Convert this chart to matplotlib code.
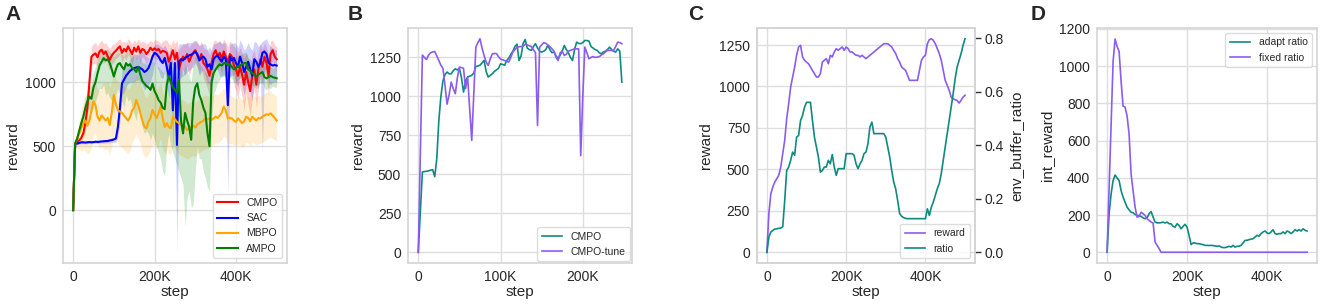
import numpy as np
import matplotlib
matplotlib.use("Agg")
import matplotlib.pyplot as plt
from matplotlib.ticker import MultipleLocator, FuncFormatter

# ----> Data <----
# panel A: steps every 5K from 0 to 500K
steps_a = np.arange(0, 500001, 5000)

cmpo_a = [0, 520, 530, 545, 565, 600, 680, 800, 1000, 1200,
          1215, 1225, 1195, 1240, 1254, 1220, 1240, 1200, 1175, 1210,
          1230, 1245, 1265, 1280, 1230, 1260, 1240, 1280, 1250, 1220,
          1270, 1240, 1280, 1230, 1260, 1250, 1220, 1240, 1270, 1250,
          1265, 1250, 1260, 1230, 1245, 1240, 1230, 1160, 1200, 1250,
          1180, 1230, 1100, 1160, 1200, 1180, 1220, 1160, 1200, 1230,
          1250, 1210, 1180, 1220, 1150, 1130, 1100, 1050, 1150, 1220,
          1250, 1200, 1230, 1180, 1240, 1200, 1150, 1220, 1200, 1130,
          1100, 1050, 1120, 1060, 980, 1080, 1000, 930, 1050, 1100,
          980, 1100, 1180, 1120, 1200, 1150, 1050, 1220, 1250, 1200,
          1180]
cmpo_a_hi = [0, 525, 540, 560, 590, 640, 740, 880, 1090, 1280,
             1300, 1310, 1280, 1310, 1330, 1300, 1310, 1280, 1260, 1290,
             1300, 1310, 1330, 1340, 1310, 1320, 1310, 1340, 1320, 1300,
             1330, 1310, 1340, 1310, 1320, 1320, 1300, 1310, 1330, 1310,
             1330, 1330, 1320, 1300, 1320, 1330, 1330, 1300, 1290, 1330,
             1300, 1330, 1250, 1280, 1300, 1300, 1310, 1270, 1300, 1310,
             1320, 1300, 1290, 1320, 1270, 1260, 1250, 1210, 1270, 1320,
             1330, 1310, 1330, 1300, 1340, 1310, 1280, 1320, 1310, 1280,
             1260, 1230, 1270, 1230, 1180, 1240, 1180, 1130, 1220, 1250,
             1160, 1250, 1300, 1260, 1310, 1270, 1210, 1320, 1330, 1290,
             1280]
cmpo_a_lo = [0, 515, 520, 530, 540, 570, 620, 720, 910, 1130,
             1145, 1145, 1125, 1180, 1184, 1140, 1180, 1130, 1095, 1140,
             1160, 1185, 1195, 1220, 1150, 1200, 1170, 1220, 1180, 1140,
             1210, 1170, 1220, 1150, 1200, 1180, 1140, 1180, 1200, 1190,
             1195, 1170, 1200, 1160, 1165, 1150, 1130, 1040, 1110, 1170,
             1060, 1130, 950, 1050, 1100, 1060, 1130, 1050, 1100, 1150,
             1180, 1120, 1070, 1120, 1030, 1000, 950, 890, 1030, 1120,
             1160, 1090, 1130, 1060, 1140, 1090, 1020, 1120, 1090, 980,
             940, 870, 970, 890, 780, 920, 820, 730, 880, 950,
             800, 950, 1060, 980, 1090, 1030, 890, 1120, 1170, 1110,
             1080]

sac_a = [0, 520, 520, 525, 530, 530, 528, 530, 532, 530,
         532, 535, 533, 535, 537, 538, 540, 540, 545, 548,
         552, 560, 650, 800, 990, 1020, 1050, 1070, 1090, 1100,
         1110, 1115, 1120, 1110, 1100, 1080, 1090, 1110, 1150, 1200,
         1230, 1220, 1200, 1170, 1150, 1190, 1120, 1040, 1150, 780,
         1150, 510, 1160, 1180, 1170, 1190, 1200, 1210, 1215, 1225,
         1240, 1220, 1170, 1190, 1200, 1180, 1120, 1140, 1100, 1180,
         1200, 1210, 1180, 1160, 1200, 1180, 820, 1200, 1170, 1190,
         1150, 1120, 1200, 1150, 1080, 1120, 1160, 1100, 1050, 1180,
         1160, 1120, 1150, 1230, 1240, 1220, 1150, 1140, 1130, 1135,
         1130]
sac_a_hi = [0, 530, 530, 535, 542, 542, 540, 542, 544, 542,
            544, 547, 545, 547, 549, 553, 553, 555, 555, 565,
            572, 590, 730, 920, 1090, 1120, 1140, 1150, 1180, 1200,
            1220, 1215, 1220, 1240, 1240, 1230, 1200, 1190, 1200, 1240,
            1290, 1300, 1290, 1280, 1270, 1290, 1260, 1220, 1280, 1150,
            1280, 1200, 1300, 1300, 1300, 1300, 1310, 1310, 1310, 1320,
            1330, 1320, 1280, 1300, 1300, 1300, 1250, 1280, 1240, 1300,
            1300, 1310, 1320, 1300, 1310, 1300, 1100, 1300, 1300, 1310,
            1300, 1270, 1330, 1300, 1250, 1270, 1310, 1270, 1250, 1320,
            1310, 1280, 1300, 1320, 1330, 1340, 1300, 1280, 1270, 1260,
            1250]
sac_a_lo = [0, 510, 510, 515, 518, 518, 516, 518, 520, 518,
            520, 523, 521, 523, 525, 523, 523, 525, 525, 528,
            532, 530, 570, 680, 890, 920, 960, 990, 1000, 1000,
            1000, 1015, 1020, 1000, 980, 940, 960, 980, 1010, 1060,
            1150, 1130, 1090, 1040, 1030, 1090, 980, 860, 1000, 480,
            1000, -330, 1010, 1040, 1050, 1060, 1080, 1090, 1110, 1120,
            1150, 1120, 1050, 1080, 1100, 1050, 1000, 970, 960, 1060,
            1100, 1100, 1050, 1040, 1050, 1040, 130, 1050, 1050, 1060,
            1000, 960, 1060, 980, 900, 970, 1000, 930, 850, 1030,
            1000, 950, 1050, 450, 1100, 1100, 1000, 980, 1000, 1000,
            1000]

mbpo_a = [0, 520, 560, 600, 640, 680, 700, 660, 700, 780,
          850, 820, 730, 700, 740, 720, 700, 720, 665, 760,
          900, 830, 780, 770, 760, 740, 720, 700, 730, 780,
          800, 861, 820, 760, 700, 652, 640, 690, 720, 783,
          750, 720, 760, 809, 720, 650, 680, 650, 640, 730,
          710, 690, 680, 665, 660, 652, 626, 640, 650, 660,
          645, 670, 680, 690, 700, 720, 710, 717, 705, 717,
          730, 720, 740, 760, 809, 780, 717, 720, 717, 700,
          690, 717, 700, 680, 695, 730, 720, 695, 730, 715,
          700, 720, 717, 730, 740, 750, 745, 757, 740, 720,
          700]
mbpo_a_hi = [0, 540, 620, 700, 780, 850, 900, 880, 920, 980,
             1030, 1000, 950, 930, 980, 1000, 990, 1010, 960, 1000,
             1080, 1030, 1000, 990, 980, 970, 960, 950, 960, 1000,
             1010, 1060, 1030, 990, 950, 900, 880, 910, 940, 980,
             960, 940, 970, 1000, 930, 860, 890, 860, 850, 930,
             920, 900, 890, 870, 860, 850, 830, 840, 850, 860,
             840, 860, 870, 880, 890, 900, 890, 900, 890, 900,
             910, 900, 920, 930, 960, 940, 900, 900, 890, 880,
             870, 890, 880, 860, 870, 900, 890, 870, 900, 890,
             880, 900, 890, 900, 910, 920, 920, 930, 910, 900,
             890]
mbpo_a_lo = [0, 500, 480, 480, 460, 470, 460, 440, 450, 500,
             600, 600, 520, 480, 500, 480, 470, 480, 430, 500,
             600, 560, 520, 500, 490, 470, 450, 440, 470, 520,
             560, 600, 560, 520, 460, 420, 410, 440, 470, 520,
             500, 480, 520, 560, 480, 440, 470, 440, 430, 520,
             480, 450, 440, 430, 420, 410, 400, 410, 420, 430,
             420, 440, 450, 460, 470, 480, 480, 490, 500, 510,
             530, 520, 540, 550, 580, 560, 520, 520, 520, 510,
             500, 520, 510, 490, 500, 530, 520, 500, 530, 520,
             510, 520, 520, 530, 540, 550, 560, 570, 560, 550,
             540]

ampo_a = [0, 520, 560, 620, 680, 730, 800, 850, 887, 870,
          960, 1000, 1070, 1130, 1160, 1188, 1170, 1180, 1150, 1100,
          1044, 1100, 1140, 1149, 1120, 1100, 1149, 1130, 1140, 1110,
          1100, 1080, 1120, 1060, 1010, 990, 970, 960, 940, 990,
          930, 900, 860, 840, 800, 790, 980, 1050, 1000, 960,
          940, 920, 1020, 700, 600, 760, 700, 650, 550, 850,
          960, 992, 900, 860, 800, 760, 600, 500, 1000, 1070,
          1100, 1123, 1140, 1130, 1149, 1150, 1130, 1140, 1120, 1100,
          1110, 1125, 1130, 1140, 1149, 1150, 1100, 1090, 1070, 1060,
          1040, 1060, 1070, 1080, 1040, 1030, 1040, 1050, 1040, 1035,
          1031]
ampo_a_hi = [0, 530, 580, 650, 720, 790, 880, 940, 960, 980,
             1080, 1120, 1180, 1220, 1250, 1260, 1250, 1260, 1240, 1220,
             1200, 1220, 1230, 1240, 1220, 1210, 1240, 1230, 1230, 1210,
             1200, 1190, 1220, 1180, 1150, 1150, 1140, 1140, 1130, 1170,
             1150, 1130, 1120, 1100, 1080, 1080, 1180, 1200, 1180, 1150,
             1150, 1130, 1200, 1100, 1050, 1150, 1080, 1050, 1000, 1150,
             1200, 1200, 1150, 1120, 1100, 1080, 1050, 950, 1150, 1180,
             1200, 1210, 1220, 1210, 1230, 1220, 1210, 1220, 1200, 1190,
             1200, 1210, 1210, 1220, 1230, 1230, 1190, 1180, 1160, 1150,
             1130, 1150, 1160, 1170, 1130, 1120, 1130, 1120, 1110, 1110,
             1100]
ampo_a_lo = [0, 510, 540, 590, 640, 670, 720, 760, 800, 760,
             800, 850, 900, 950, 950, 980, 900, 920, 880, 850,
             750, 900, 950, 900, 850, 800, 900, 850, 870, 800,
             750, 700, 800, 750, 650, 600, 620, 600, 550, 600,
             550, 500, 450, 400, 300, 270, 500, 600, 500, 450,
             400, 350, 300, 250, 200, -130, 100, 150, 20, 50,
             300, 500, 400, 400, 300, 250, 180, 150, 700, 900,
             950, 1000, 1020, 1050, 1060, 1040, 1050, 1040, 1030, 1000,
             1000, 1020, 1030, 1050, 1060, 1050, 1000, 990, 980, 960,
             950, 980, 990, 1000, 950, 940, 960, 950, 970, 960,
             960]

# panel B: steps every 2.5K from 0 to 247.5K
steps_b = np.arange(0, 250000, 2500)
cmpo_b = [0, 260, 515, 518, 520, 522, 528, 530, 485, 600,
          846, 1000, 1100, 1140, 1156, 1145, 1145, 1165, 1177, 1170,
          1180, 1120, 1028, 1100, 1124, 1130, 1135, 1150, 1192, 1195,
          1200, 1215, 1231, 1160, 1124, 1135, 1145, 1160, 1170, 1180,
          1209, 1205, 1200, 1230, 1245, 1270, 1290, 1320, 1335, 1230,
          1260, 1340, 1365, 1310, 1300, 1295, 1320, 1338, 1310, 1290,
          1284, 1290, 1300, 1327, 1300, 1280, 1285, 1260, 1241, 1265,
          1290, 1327, 1300, 1280, 1250, 1230, 1300, 1348, 1340, 1338,
          1345, 1359, 1358, 1355, 1320, 1310, 1300, 1295, 1280, 1273,
          1285, 1290, 1300, 1316, 1300, 1290, 1284, 1305, 1290, 1092]
cmpo_tune_b = [0, 630, 1265, 1250, 1237, 1265, 1280, 1285, 1288, 1260,
               1230, 1200, 1180, 1070, 950, 1010, 1092, 1050, 1017, 1120,
               1188, 1185, 1180, 1050, 1124, 920, 718, 1017, 1316, 1345,
               1370, 1310, 1263, 1220, 1199, 1240, 1273, 1275, 1275, 1255,
               1240, 1235, 1230, 1225, 1220, 1250, 1285, 1300, 1315, 1318,
               1320, 1322, 1335, 1330, 1325, 1320, 1300, 1280, 814, 1316,
               1330, 1345, 1340, 1330, 1320, 1305, 1290, 1250, 1230, 1280,
               1290, 1263, 1270, 1290, 1295, 1300, 1305, 1305, 1305, 620,
               1000, 1316, 1280, 1241, 1250, 1256, 1250, 1252, 1255, 1265,
               1273, 1285, 1295, 1295, 1295, 1295, 1320, 1348, 1345, 1338]

# panels C and D: steps every 5K from 0 to 500K
steps_cd = np.arange(0, 500001, 5000)
reward_c = [0, 233, 354, 394, 424, 444, 464, 514, 595, 675,
            806, 896, 997, 1057, 1117, 1188, 1238, 1248, 1178, 1158,
            1147, 1137, 1117, 1097, 1077, 1057, 1057, 1077, 1147, 1158,
            1168, 1137, 1188, 1178, 1208, 1228, 1218, 1228, 1238, 1218,
            1238, 1228, 1208, 1208, 1198, 1188, 1188, 1178, 1188, 1178,
            1168, 1178, 1188, 1198, 1208, 1218, 1228, 1238, 1248, 1258,
            1258, 1258, 1248, 1238, 1218, 1198, 1168, 1147, 1117, 1107,
            1097, 1067, 1037, 1037, 1037, 1037, 1037, 1097, 1158, 1178,
            1188, 1258, 1282, 1288, 1278, 1258, 1228, 1198, 1158, 1097,
            1037, 1007, 977, 936, 926, 920, 916, 900, 916, 936,
            947]
ratio_c = [0.0, 0.057, 0.076, 0.082, 0.087, 0.088, 0.090, 0.091, 0.095, 0.194,
           0.306, 0.319, 0.344, 0.375, 0.363, 0.431, 0.437, 0.493, 0.512, 0.543,
           0.561, 0.561, 0.561, 0.493, 0.431, 0.394, 0.356, 0.300, 0.306, 0.319,
           0.319, 0.344, 0.331, 0.366, 0.319, 0.288, 0.313, 0.313, 0.313, 0.313,
           0.369, 0.369, 0.369, 0.369, 0.363, 0.331, 0.313, 0.331, 0.344, 0.369,
           0.375, 0.406, 0.469, 0.487, 0.444, 0.444, 0.444, 0.444, 0.444, 0.444,
           0.431, 0.394, 0.356, 0.306, 0.263, 0.238, 0.194, 0.145, 0.135, 0.130,
           0.127, 0.126, 0.126, 0.126, 0.126, 0.126, 0.126, 0.126, 0.126, 0.126,
           0.126, 0.163, 0.138, 0.169, 0.188, 0.213, 0.238, 0.257, 0.294, 0.344,
           0.394, 0.444, 0.493, 0.543, 0.593, 0.649, 0.693, 0.718, 0.743, 0.774,
           0.799]

adapt_d = [0, 207, 313, 385, 415, 399, 385, 331, 296, 269,
           242, 228, 215, 212, 203, 198, 196, 192, 185, 180,
           185, 207, 219, 189, 162, 158, 158, 159, 162, 157,
           162, 153, 153, 139, 135, 153, 144, 126, 139, 150,
           135, 91, 41, 50, 50, 46, 46, 43, 41, 37,
           37, 36, 37, 36, 34, 32, 34, 28, 25, 25,
           28, 32, 28, 37, 28, 32, 32, 37, 50, 64,
           64, 68, 70, 73, 82, 91, 86, 100, 109, 114,
           103, 100, 109, 121, 100, 97, 100, 100, 109, 100,
           114, 109, 100, 109, 121, 114, 121, 114, 126, 118,
           114]
fixed_d = [0, 342, 684, 1026, 1146, 1106, 1079, 919, 785, 780,
           732, 634, 420, 331, 242, 189, 192, 215, 207, 198,
           180, 171, 162, 157, 55, 37, 20, 0, 0, 0,
           0, 0, 0, 0, 0, 0, 0, 0, 0, 0,
           0, 0, 0, 0, 0, 0, 0, 0, 0, 0,
           0, 0, 0, 0, 0, 0, 0, 0, 0, 0,
           0, 0, 0, 0, 0, 0, 0, 0, 0, 0,
           0, 0, 0, 0, 0, 0, 0, 0, 0, 0,
           0, 0, 0, 0, 0, 0, 0, 0, 0, 0,
           0, 0, 0, 0, 0, 0, 0, 0, 0, 0,
           0]

# ----> Style <----
teal = '#0f8a80'
purple = '#8b5cf0'
plt.rcParams['font.family'] = ['Liberation Sans', 'DejaVu Sans']
plt.rcParams['font.size'] = 10
plt.rcParams['text.color'] = '#262626'
plt.rcParams['axes.labelcolor'] = '#262626'
plt.rcParams['xtick.color'] = '#262626'
plt.rcParams['ytick.color'] = '#262626'


def kfmt(v, pos):
    if v == 0:
        return '0'
    return f'{int(round(v / 1000))}K'


def style_axes(ax):
    for s in ax.spines.values():
        s.set_color('#d4d4d4')
        s.set_linewidth(1.2)
    ax.grid(True, color='#dedede', linewidth=1.0)
    ax.set_axisbelow(True)
    ax.tick_params(length=0, labelsize=10, pad=5)
    ax.xaxis.set_major_formatter(FuncFormatter(kfmt))
    ax.set_xlabel('step', fontsize=11, labelpad=1)


fig = plt.figure(figsize=(13.25, 3.08), dpi=100)
ax_a = fig.add_axes([0.0475, 0.146, 0.169, 0.763])
ax_b = fig.add_axes([0.308, 0.146, 0.169, 0.763])
ax_c = fig.add_axes([0.5713, 0.146, 0.1645, 0.763])
ax_d = fig.add_axes([0.828, 0.146, 0.166, 0.763])

# ----> Panel A <----
series_a = [('CMPO', cmpo_a, cmpo_a_lo, cmpo_a_hi, 'red'),
            ('SAC', sac_a, sac_a_lo, sac_a_hi, 'blue'),
            ('MBPO', mbpo_a, mbpo_a_lo, mbpo_a_hi, 'orange'),
            ('AMPO', ampo_a, ampo_a_lo, ampo_a_hi, 'green')]
for name, mean, lo, hi, col in series_a:
    ax_a.fill_between(steps_a, lo, hi, color=col, alpha=0.18, linewidth=0)
for name, mean, lo, hi, col in series_a:
    ax_a.plot(steps_a, mean, color=col, linewidth=1.5, label=name)
style_axes(ax_a)
ax_a.xaxis.set_major_locator(MultipleLocator(200000))
ax_a.yaxis.set_major_locator(MultipleLocator(500))
ax_a.set_ylabel('reward', fontsize=11)
ax_a.legend(loc='lower right', fontsize=7.5, framealpha=0.8, edgecolor='#d4d4d4')

# ----> Panel B <----
ax_b.plot(steps_b, cmpo_b, color=teal, linewidth=1.2, label='CMPO')
ax_b.plot(steps_b, cmpo_tune_b, color=purple, linewidth=1.2, label='CMPO-tune')
style_axes(ax_b)
ax_b.xaxis.set_major_locator(MultipleLocator(100000))
ax_b.yaxis.set_major_locator(MultipleLocator(250))
ax_b.set_ylabel('reward', fontsize=11)
ax_b.legend(loc='lower right', fontsize=7.5, framealpha=0.8, edgecolor='#d4d4d4',
            borderaxespad=0.2)

# ----> Panel C <----
ax_c2 = ax_c.twinx()
l1, = ax_c.plot(steps_cd, reward_c, color=purple, linewidth=1.2, label='reward')
l2, = ax_c2.plot(steps_cd, ratio_c, color=teal, linewidth=1.2, label='ratio')
style_axes(ax_c)
for s in ax_c2.spines.values():
    s.set_color('#d4d4d4')
    s.set_linewidth(1.2)
ax_c2.tick_params(length=4, width=1, color='#333333', labelsize=10, pad=3)
ax_c.xaxis.set_major_locator(MultipleLocator(200000))
ax_c.yaxis.set_major_locator(MultipleLocator(250))
ax_c2.yaxis.set_major_locator(MultipleLocator(0.2))
ax_c.set_ylabel('reward', fontsize=11)
ax_c2.set_ylabel('env_buffer_ratio', fontsize=11)
ax_c2.legend([l1, l2], ['reward', 'ratio'], loc='lower right', fontsize=7.5,
             framealpha=0.8, edgecolor='#d4d4d4')

# ----> Panel D <----
ax_d.plot(steps_cd, adapt_d, color=teal, linewidth=1.2, label='adapt ratio')
ax_d.plot(steps_cd, fixed_d, color=purple, linewidth=1.2, label='fixed ratio')
style_axes(ax_d)
ax_d.xaxis.set_major_locator(MultipleLocator(200000))
ax_d.yaxis.set_major_locator(MultipleLocator(200))
ax_d.set_ylim(-58, 1205)
ax_d.set_ylabel('int_reward', fontsize=11)
ax_d.legend(loc='upper right', fontsize=7.5, framealpha=0.8, edgecolor='#d4d4d4')

# panel letters
for x, letter in [(0.004, 'A'), (0.262, 'B'), (0.519, 'C'), (0.778, 'D')]:
    fig.text(x, 0.985, letter, fontsize=15, fontweight='bold', va='top', ha='left')

fig.savefig('out.png', dpi=100)
